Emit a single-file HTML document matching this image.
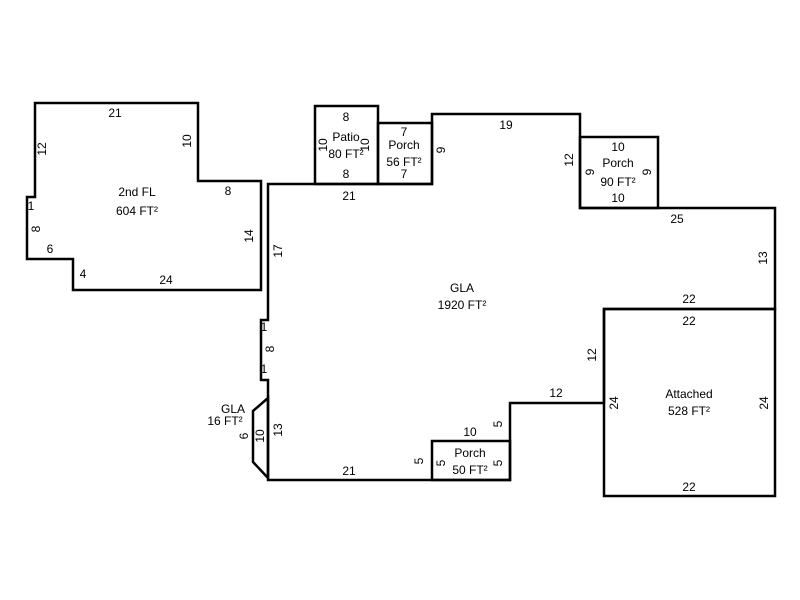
<!DOCTYPE html>
<html><head><style>body{margin:0;background:#fff}svg{display:block}text{font-family:"Liberation Sans",Arial,sans-serif;font-size:12px;fill:#000}</style></head><body>
<svg width="800" height="600" viewBox="0 0 800 600">
<g fill="none" stroke="#000" stroke-width="2.5">
<polygon points="35,103 198,103 198,181 261,181 261,290 73,290 73,259 27,259 27,197 35,197"/>
<polygon points="268,184 432,184 432,114 580,114 580,208 775,208 775,309 604,309 604,403 510,403 510,480 268,480 268,380 261,380 261,320 268,320"/>
<rect x="315" y="106" width="63" height="78"/>
<rect x="378" y="123" width="54" height="61"/>
<rect x="580" y="137" width="78" height="71"/>
<rect x="432" y="441" width="78" height="39"/>
<rect x="604" y="309" width="171" height="187"/>
<polygon points="268,398 253,411 253,462 268,478"/>
</g>
<g text-anchor="middle">
<text x="115" y="117">21</text>
<text x="137" y="196">2nd FL</text><text x="137" y="215">604 FT²</text>
<text x="228" y="195">8</text>
<text x="50" y="253">6</text>
<text x="166" y="284">24</text>
<text x="346" y="121">8</text><text x="346" y="141">Patio</text><text x="346" y="158">80 FT²</text><text x="346" y="178">8</text>
<text x="404" y="136">7</text><text x="404" y="149">Porch</text><text x="404" y="166">56 FT²</text><text x="404" y="178">7</text>
<text x="349" y="200">21</text>
<text x="506" y="129">19</text>
<text x="618" y="151">10</text><text x="618" y="167">Porch</text><text x="618" y="186">90 FT²</text><text x="618" y="202">10</text>
<text x="677" y="223">25</text>
<text x="462" y="292">GLA</text><text x="462" y="309">1920 FT²</text>
<text x="689" y="303">22</text><text x="689" y="325">22</text>
<text x="689" y="398">Attached</text><text x="689" y="415">528 FT²</text>
<text x="689" y="491">22</text>
<text x="556" y="397">12</text>
<text x="470" y="436">10</text>
<text x="470" y="457">Porch</text><text x="470" y="474">50 FT²</text>
<text x="349" y="475">21</text>
<text x="233" y="413">GLA</text><text x="225" y="425">16 FT²</text>
<text x="264" y="331">1</text><text x="264" y="373">1</text>
<text x="31" y="210">1</text>
<text x="83" y="278">4</text>
</g>
<g text-anchor="middle">
<text transform="translate(46,149) rotate(-90)">12</text>
<text transform="translate(191,141) rotate(-90)">10</text>
<text transform="translate(40,229) rotate(-90)">8</text>
<text transform="translate(253,236) rotate(-90)">14</text>
<text transform="translate(282,251) rotate(-90)">17</text>
<text transform="translate(274,349) rotate(-90)">8</text>
<text transform="translate(282,430) rotate(-90)">13</text>
<text transform="translate(264,436) rotate(-90)">10</text>
<text transform="translate(248,436) rotate(-90)">6</text>
<text transform="translate(445,150) rotate(-90)">9</text>
<text transform="translate(573,160) rotate(-90)">12</text>
<text transform="translate(594,172) rotate(-90)">9</text>
<text transform="translate(651,172) rotate(-90)">9</text>
<text transform="translate(767,258) rotate(-90)">13</text>
<text transform="translate(596,355) rotate(-90)">12</text>
<text transform="translate(618,403) rotate(-90)">24</text>
<text transform="translate(768,403) rotate(-90)">24</text>
<text transform="translate(502,424) rotate(-90)">5</text>
<text transform="translate(423,461) rotate(-90)">5</text>
<text transform="translate(445,463) rotate(-90)">5</text>
<text transform="translate(502,463) rotate(-90)">5</text>
<text transform="translate(327,145) rotate(-90)">10</text>
<text transform="translate(369,145) rotate(-90)">10</text>
</g>
</svg>
</body></html>
